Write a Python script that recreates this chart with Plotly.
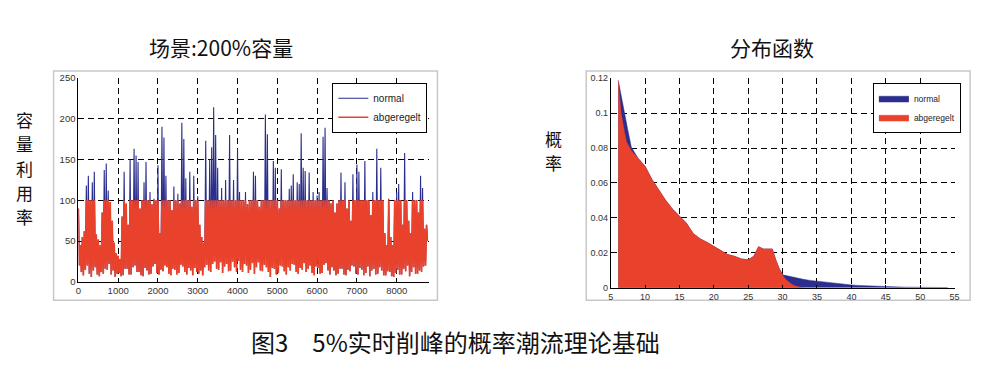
import numpy as np
import plotly.graph_objects as go

# ---------------- data ----------------
HOUR_STEP = 25  # one reading every 25 hours

# capacity utilisation (%) - normal operation
normal_load = [
    90, 20, 45, 12, 55, 8, 62, 15, 118, 20, 130, 10, 100, 6, 122, 14,
    135, 18, 58, 9, 52, 7, 45, 12, 85, 10, 137, 16, 145, 15, 112, 22,
    98, 9, 75, 14, 48, 6, 35, 10, 32, 11, 28, 7, 80, 8, 135, 16,
    96, 16, 70, 9, 150, 9, 100, 18, 163, 20, 155, 12, 147, 12, 90, 8,
    100, 7, 122, 17, 147, 14, 100, 9, 110, 10, 95, 19, 102, 22, 100, 11,
    143, 9, 60, 15, 190, 13, 177, 20, 130, 18, 100, 10, 100, 8, 88, 16,
    117, 15, 100, 9, 108, 11, 96, 21, 195, 19, 175, 12, 127, 9, 100, 17,
    135, 14, 92, 8, 130, 17, 100, 12, 105, 10, 70, 14, 55, 8, 48, 18,
    173, 21, 100, 14, 150, 12, 165, 22, 214, 25, 180, 16, 140, 15, 100, 24,
    115, 11, 100, 19, 125, 22, 100, 13, 180, 14, 100, 25, 125, 18, 100, 12,
    163, 26, 110, 15, 100, 12, 100, 22, 110, 20, 95, 11, 100, 15, 100, 23,
    135, 10, 130, 18, 100, 24, 92, 14, 100, 13, 100, 21, 205, 18, 181, 12,
    100, 6, 100, 17, 148, 16, 140, 9, 100, 11, 90, 20, 138, 19, 100, 13,
    100, 9, 100, 18, 114, 14, 118, 22, 132, 21, 100, 12, 122, 10, 120, 17,
    182, 15, 140, 23, 136, 12, 100, 16, 134, 20, 100, 11, 110, 8, 100, 19,
    106, 17, 110, 10, 100, 11, 178, 21, 189, 23, 115, 14, 100, 9, 96, 18,
    100, 14, 85, 8, 96, 10, 100, 16, 134, 16, 100, 9, 122, 8, 90, 15,
    100, 13, 75, 20, 132, 19, 100, 10, 144, 9, 135, 17, 100, 15, 100, 8,
    148, 11, 100, 19, 100, 7, 82, 14, 110, 16, 100, 9, 163, 10, 100, 18,
    140, 14, 100, 8, 60, 8, 45, 13, 102, 12, 55, 7, 45, 6, 100, 11,
    110, 15, 120, 9, 100, 9, 70, 16, 158, 13, 100, 20, 75, 7, 60, 12,
    110, 18, 100, 10, 100, 10, 85, 14, 130, 12, 115, 19, 65, 20, 70, 50,
]

# capacity utilisation (%) - curtailed ("abgeregelt")
curtailed_load = [
    90, 20, 45, 12, 55, 8, 62, 15, 100, 20, 100, 10, 100, 6, 100, 14,
    100, 18, 58, 9, 52, 7, 45, 12, 85, 10, 100, 16, 100, 15, 100, 22,
    98, 9, 75, 14, 48, 6, 35, 10, 32, 11, 28, 7, 80, 8, 100, 16,
    96, 16, 70, 9, 100, 9, 100, 18, 100, 20, 100, 12, 100, 12, 90, 8,
    100, 7, 100, 17, 100, 14, 100, 9, 100, 10, 95, 19, 100, 22, 100, 11,
    100, 9, 60, 15, 100, 13, 100, 20, 100, 18, 100, 10, 100, 8, 88, 16,
    100, 15, 100, 9, 100, 11, 96, 21, 100, 19, 100, 12, 100, 9, 100, 17,
    100, 14, 92, 8, 100, 17, 100, 12, 100, 10, 70, 14, 55, 8, 48, 18,
    100, 21, 100, 14, 100, 12, 100, 22, 100, 25, 100, 16, 100, 15, 100, 24,
    100, 11, 100, 19, 100, 22, 100, 13, 100, 14, 100, 25, 100, 18, 100, 12,
    100, 26, 100, 15, 100, 12, 100, 22, 100, 20, 95, 11, 100, 15, 100, 23,
    100, 10, 100, 18, 100, 24, 92, 14, 100, 13, 100, 21, 100, 18, 100, 12,
    100, 6, 100, 17, 100, 16, 100, 9, 100, 11, 90, 20, 100, 19, 100, 13,
    100, 9, 100, 18, 100, 14, 100, 22, 100, 21, 100, 12, 100, 10, 100, 17,
    100, 15, 100, 23, 100, 12, 100, 16, 100, 20, 100, 11, 100, 8, 100, 19,
    100, 17, 100, 10, 100, 11, 100, 21, 100, 23, 100, 14, 100, 9, 96, 18,
    100, 14, 85, 8, 96, 10, 100, 16, 100, 16, 100, 9, 100, 8, 90, 15,
    100, 13, 75, 20, 100, 19, 100, 10, 100, 9, 100, 17, 100, 15, 100, 8,
    100, 11, 100, 19, 100, 7, 82, 14, 100, 16, 100, 9, 100, 10, 100, 18,
    100, 14, 100, 8, 60, 8, 45, 13, 100, 12, 55, 7, 45, 6, 100, 11,
    100, 15, 100, 9, 100, 9, 70, 16, 100, 13, 100, 20, 75, 7, 60, 12,
    100, 18, 100, 10, 100, 10, 85, 14, 100, 12, 100, 19, 65, 20, 70, 50,
]

# distribution function
dist_x_normal = [6.1, 6.5, 7, 7.5, 8, 9, 10, 11, 12, 13, 14, 15, 16, 17, 18, 19, 20,
                 21, 22, 23, 24, 25, 25.8, 26.5, 27.2, 28, 28.5, 29, 29.5, 30, 31, 32,
                 33, 34, 35, 36, 37, 38, 39, 40, 41, 42, 43, 44, 45, 46, 47, 48, 49,
                 50, 51, 52, 53, 54]
dist_p_normal = [0.1187, 0.110, 0.101, 0.090, 0.0805, 0.074, 0.0695, 0.062, 0.056, 0.050,
                 0.045, 0.041, 0.037, 0.031, 0.028, 0.026, 0.0235, 0.021, 0.019, 0.018,
                 0.0165, 0.016, 0.018, 0.0235, 0.0222, 0.0222, 0.0222, 0.016, 0.011,
                 0.0074, 0.0064, 0.0055, 0.0048, 0.0042, 0.0037, 0.0032, 0.0027, 0.0023,
                 0.0019, 0.0016, 0.0013, 0.0011, 0.0009, 0.0007, 0.0005, 0.0004, 0.0004,
                 0.0003, 0.0003, 0.0003, 0.0002, 0.0002, 0.0002, 0.0001]
dist_x_curtailed = [6.1, 6.5, 7, 7.3, 8, 9, 10, 11, 12, 13, 14, 15, 16, 17, 18, 19, 20,
                    21, 22, 23, 24, 25, 25.8, 26.5, 27.2, 28, 28.5, 29, 29.5, 30, 30.5,
                    31, 31.5, 32, 33]
dist_p_curtailed = [0.1187, 0.100, 0.089, 0.0835, 0.0785, 0.074, 0.0695, 0.062, 0.056,
                    0.050, 0.045, 0.041, 0.037, 0.031, 0.028, 0.026, 0.0235, 0.021, 0.019,
                    0.018, 0.0165, 0.016, 0.018, 0.0235, 0.0222, 0.0222, 0.0222, 0.016,
                    0.011, 0.0072, 0.0045, 0.003, 0.0015, 0.0008, 0.0]

series_names = ["normal", "abgeregelt"]
left_title = "场景:200%容量"
right_title = "分布函数"
left_ylabel = "容量利用率"
right_ylabel = "概率"
caption = "图3　5%实时削峰的概率潮流理论基础"

# ---------------- styling ----------------
W, H = 986, 385
BLUE = "#2b2e8c"
RED = "#e8412c"
CJK = "Noto Sans CJK SC"
LAT = "Liberation Sans, Arial, sans-serif"

hours = np.arange(len(normal_load)) * HOUR_STEP

fig = go.Figure()

fig.add_trace(go.Scatter(x=hours, y=normal_load, mode="lines", name=series_names[0],
                         line=dict(color=BLUE, width=1.1), xaxis="x", yaxis="y",
                         legend="legend"))
fig.add_trace(go.Scatter(x=hours, y=curtailed_load, mode="lines", name=series_names[1],
                         line=dict(color=RED, width=1.7), xaxis="x", yaxis="y",
                         legend="legend"))

fig.add_trace(go.Scatter(x=dist_x_normal, y=dist_p_normal, mode="lines", fill="tozeroy",
                         name=series_names[0], line=dict(color=BLUE, width=0.5),
                         fillcolor=BLUE, xaxis="x2", yaxis="y2", legend="legend2"))
fig.add_trace(go.Scatter(x=dist_x_curtailed, y=dist_p_curtailed, mode="lines", fill="tozeroy",
                         name=series_names[1], line=dict(color=RED, width=0.5),
                         fillcolor=RED, xaxis="x2", yaxis="y2", legend="legend2"))


def px_x(v):
    return v / W


def px_y(v):
    return (H - v) / H


def grid(size):
    return dict(showgrid=True, gridcolor="#000000", gridwidth=1, griddash="6px,4px",
                zeroline=False, showline=True, linecolor="#000000", linewidth=1,
                ticks="inside", ticklen=3, tickcolor="#000000",
                tickfont=dict(family=LAT, size=size, color="#333333"))


def stacked(label, cx, cy, pitch, size):
    n = len(label)
    out = []
    for i, ch in enumerate(label):
        out.append(dict(text=ch, x=px_x(cx), y=px_y(cy + (i - (n - 1) / 2) * pitch),
                        xref="paper", yref="paper", showarrow=False,
                        xanchor="center", yanchor="middle",
                        font=dict(family=CJK, size=size, color="#111111")))
    return out


annotations = [
    dict(text=left_title, x=px_x(220), y=px_y(42), xref="paper", yref="paper",
         showarrow=False, xanchor="center", yanchor="middle",
         font=dict(family=CJK, size=21, color="#111111")),
    dict(text=right_title, x=px_x(775), y=px_y(42), xref="paper", yref="paper",
         showarrow=False, xanchor="center", yanchor="middle",
         font=dict(family=CJK, size=21, color="#111111")),
    dict(text=caption, x=px_x(456), y=px_y(345), xref="paper", yref="paper",
         showarrow=False, xanchor="center", yanchor="middle",
         font=dict(family=CJK, size=24, color="#111111")),
]
annotations += stacked(left_ylabel, 22, 167, 25, 17)
annotations += stacked(right_ylabel, 555, 149, 25, 17)

fig.update_layout(
    width=W, height=H,
    margin=dict(l=0, r=0, t=0, b=0),
    paper_bgcolor="white", plot_bgcolor="white",
    showlegend=True,
    xaxis=dict(domain=[px_x(76), px_x(429)], range=[0, 8800], tick0=0, dtick=1000,
               anchor="y", **grid(9.5)),
    yaxis=dict(domain=[px_y(284), px_y(74)], range=[0, 250], tick0=0, dtick=50,
               anchor="x", **grid(9.5)),
    xaxis2=dict(domain=[px_x(612.7), px_x(959.3)], range=[5, 55], tick0=5, dtick=5,
                anchor="y2", **grid(9)),
    yaxis2=dict(domain=[px_y(290), px_y(74.3)], range=[0, 0.12], tick0=0, dtick=0.02,
                anchor="x2", **grid(9)),
    legend=dict(x=px_x(332), y=px_y(79), xanchor="left", yanchor="top",
                bgcolor="white", bordercolor="#000000", borderwidth=1,
                font=dict(family=LAT, size=10, color="#222222"),
                tracegroupgap=0, itemwidth=30),
    legend2=dict(x=px_x(877), y=px_y(79), xanchor="left", yanchor="top",
                 bgcolor="white", bordercolor="#000000", borderwidth=1,
                 font=dict(family=LAT, size=8.5, color="#222222"),
                 tracegroupgap=0, itemwidth=30),
    shapes=[
        dict(type="rect", xref="paper", yref="paper",
             x0=px_x(51), x1=px_x(438), y0=px_y(303), y1=px_y(67),
             line=dict(color="#c8c8c8", width=1.5), fillcolor="rgba(0,0,0,0)", layer="below"),
        dict(type="rect", xref="paper", yref="paper",
             x0=px_x(588), x1=px_x(975), y0=px_y(303), y1=px_y(67),
             line=dict(color="#c8c8c8", width=1.5), fillcolor="rgba(0,0,0,0)", layer="below"),
    ],
    annotations=annotations,
)

fig.write_html("out.html", config={"displayModeBar": False},
               post_script="document.body.style.margin='0';document.body.style.overflow='hidden';")
